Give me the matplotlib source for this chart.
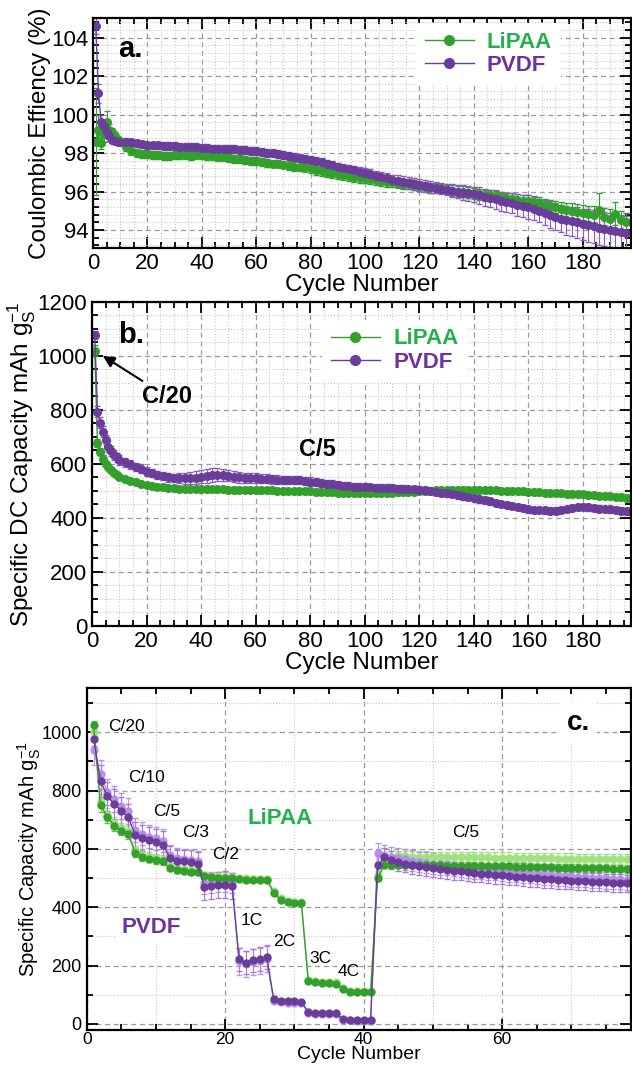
import numpy as np
import matplotlib
matplotlib.use("Agg")
import matplotlib.pyplot as plt
from matplotlib.ticker import MultipleLocator
from matplotlib.lines import Line2D

plt.rcParams['font.family'] = ['Liberation Sans', 'DejaVu Sans']
plt.rcParams['mathtext.fontset'] = 'custom'
plt.rcParams['mathtext.rm'] = 'Liberation Sans'

# ---------------- data ----------------
cyc_ab = list(range(1, 11)) + list(range(12, 197, 2))

ce_lipaa = [98.6, 99.2, 98.5, 99.0, 99.6, 99.2, 99.1, 98.9, 98.7, 98.6,
            98.3, 98.1, 98.0, 97.95, 97.95, 97.9, 97.9, 97.85, 97.85, 97.9,
            97.9, 97.9, 97.85, 97.9, 97.9, 97.85, 97.85, 97.8, 97.8, 97.75,
            97.7, 97.7, 97.65, 97.6, 97.6, 97.55, 97.5, 97.45, 97.45, 97.4,
            97.35, 97.3, 97.3, 97.25, 97.2, 97.1, 97.05, 97.0, 96.95, 96.9,
            96.85, 96.8, 96.75, 96.7, 96.7, 96.65, 96.6, 96.55, 96.5, 96.5,
            96.45, 96.4, 96.4, 96.35, 96.3, 96.25, 96.2, 96.2, 96.15, 96.1,
            96.05, 96.0, 96.0, 95.95, 95.9, 95.85, 95.8, 95.8, 95.75, 95.7,
            95.65, 95.6, 95.55, 95.5, 95.5, 95.45, 95.4, 95.3, 95.25, 95.2,
            95.1, 95.05, 95.0, 94.95, 94.9, 94.85, 94.8, 95.05, 94.7, 94.6,
            94.85, 94.5, 94.4]
ce_lipaa_err = [2.8, 0.8, 0.3, 0.4, 0.6, 0.3, 0.2, 0.2, 0.2, 0.2,
                0.2, 0.2, 0.2, 0.2, 0.2, 0.2, 0.2, 0.2, 0.2, 0.2,
                0.2, 0.2, 0.2, 0.2, 0.2, 0.2, 0.2, 0.2, 0.2, 0.2,
                0.2, 0.2, 0.2, 0.2, 0.2, 0.2, 0.2, 0.2, 0.2, 0.2,
                0.25, 0.25, 0.25, 0.25, 0.25, 0.25, 0.25, 0.25, 0.25, 0.25,
                0.25, 0.25, 0.25, 0.25, 0.25, 0.25, 0.25, 0.25, 0.25, 0.25,
                0.25, 0.25, 0.25, 0.25, 0.25, 0.25, 0.25, 0.25, 0.25, 0.25,
                0.3, 0.3, 0.3, 0.3, 0.3, 0.3, 0.3, 0.3, 0.3, 0.3,
                0.3, 0.3, 0.3, 0.3, 0.3, 0.3, 0.3, 0.3, 0.3, 0.3,
                0.35, 0.35, 0.4, 0.4, 0.4, 0.4, 0.45, 0.9, 0.45, 0.5,
                0.6, 0.5, 0.5]
ce_pvdf = [104.6, 101.1, 99.6, 99.4, 99.1, 98.9, 98.7, 98.65, 98.6, 98.6,
           98.6, 98.55, 98.5, 98.45, 98.4, 98.4, 98.4, 98.35, 98.35, 98.35,
           98.3, 98.3, 98.3, 98.3, 98.25, 98.25, 98.2, 98.2, 98.2, 98.2,
           98.2, 98.15, 98.15, 98.1, 98.1, 98.05, 98.0, 98.0, 97.95, 97.9,
           97.85, 97.8, 97.75, 97.7, 97.65, 97.6, 97.55, 97.45, 97.4, 97.3,
           97.2, 97.15, 97.1, 97.0, 96.95, 96.9, 96.8, 96.75, 96.7, 96.6,
           96.55, 96.5, 96.45, 96.4, 96.35, 96.3, 96.25, 96.2, 96.15, 96.1,
           96.05, 96.0, 95.95, 95.9, 95.85, 95.8, 95.7, 95.65, 95.6, 95.5,
           95.45, 95.4, 95.3, 95.25, 95.2, 95.1, 95.0, 94.9, 94.8, 94.7,
           94.6, 94.5, 94.45, 94.4, 94.3, 94.25, 94.2, 94.1, 94.05, 94.0,
           93.95, 93.9, 93.85]
ce_pvdf_err = [0.4, 0.5, 0.4, 0.3, 0.3, 0.25, 0.2, 0.2, 0.2, 0.2,
               0.2, 0.2, 0.2, 0.2, 0.2, 0.2, 0.2, 0.2, 0.2, 0.2,
               0.2, 0.2, 0.2, 0.2, 0.2, 0.2, 0.2, 0.2, 0.2, 0.2,
               0.2, 0.2, 0.2, 0.2, 0.2, 0.2, 0.2, 0.2, 0.2, 0.2,
               0.2, 0.2, 0.2, 0.2, 0.2, 0.2, 0.2, 0.2, 0.2, 0.2,
               0.25, 0.25, 0.25, 0.25, 0.25, 0.25, 0.25, 0.25, 0.25, 0.25,
               0.3, 0.3, 0.3, 0.3, 0.3, 0.3, 0.3, 0.3, 0.3, 0.3,
               0.35, 0.35, 0.4, 0.4, 0.4, 0.45, 0.45, 0.45, 0.5, 0.5,
               0.5, 0.5, 0.55, 0.55, 0.6, 0.6, 0.6, 0.65, 0.7, 0.7,
               0.7, 0.75, 0.75, 0.8, 0.8, 0.85, 0.85, 0.9, 0.9, 0.9,
               0.9, 0.9, 0.9]

cap_lipaa = [1020, 676, 646, 620, 600, 588, 578, 568, 560, 553,
             545, 538, 532, 527, 522, 518, 515, 513, 511, 510,
             509, 508, 507, 507, 506, 506, 506, 506, 506, 505,
             505, 505, 504, 504, 503, 503, 502, 502, 501, 500,
             500, 499, 499, 498, 498, 497, 497, 496, 495, 494,
             494, 493, 493, 492, 492, 492, 493, 493, 494, 494,
             495, 495, 496, 497, 498, 499, 500, 502, 503, 504,
             504, 504, 504, 504, 504, 503, 503, 502, 502, 501,
             500, 500, 499, 498, 497, 496, 495, 494, 493, 492,
             491, 490, 489, 488, 487, 485, 484, 483, 482, 480,
             478, 476, 474]
cap_lipaa_err = [20, 15, 12, 12, 10, 10, 10, 10, 10, 10,
                 10, 10, 9, 9, 9, 9, 9, 9, 9, 9,
                 9, 9, 9, 9, 9, 9, 9, 9, 9, 9,
                 9, 9, 9, 9, 9, 9, 9, 9, 9, 9,
                 9, 9, 9, 9, 9, 9, 9, 9, 9, 9,
                 9, 9, 9, 9, 9, 9, 9, 9, 9, 9,
                 9, 9, 9, 9, 9, 9, 9, 9, 9, 9,
                 9, 9, 9, 9, 9, 9, 9, 9, 9, 9,
                 10, 10, 10, 10, 10, 10, 10, 10, 10, 10,
                 10, 10, 10, 10, 10, 10, 10, 10, 10, 10,
                 10, 10, 10]
cap_pvdf = [1078, 794, 753, 720, 689, 664, 648, 633, 624, 615,
            606, 598, 590, 583, 572, 566, 560, 556, 550, 547,
            547, 547, 547, 549, 553, 556, 559, 560, 558, 556,
            553, 550, 547, 547, 547, 546, 545, 543, 542, 541,
            541, 541, 540, 538, 535, 533, 530, 527, 525, 522,
            520, 518, 516, 514, 514, 513, 512, 511, 510, 510,
            509, 508, 507, 506, 504, 502, 500, 497, 494, 491,
            488, 484, 480, 477, 473, 469, 465, 461, 456, 452,
            448, 444, 440, 436, 432, 430, 429, 428, 427, 427,
            430, 434, 437, 440, 440, 439, 437, 435, 433, 432,
            430, 427, 424]
cap_pvdf_err = [15, 20, 20, 20, 20, 20, 18, 18, 18, 18,
                16, 16, 15, 15, 15, 15, 15, 15, 15, 15,
                18, 20, 22, 24, 25, 25, 25, 24, 22, 20,
                20, 20, 18, 18, 18, 18, 16, 16, 16, 16,
                15, 15, 15, 15, 15, 15, 15, 15, 15, 15,
                14, 14, 14, 14, 14, 14, 14, 14, 14, 14,
                13, 13, 13, 13, 13, 13, 13, 13, 13, 13,
                12, 12, 12, 12, 12, 12, 12, 12, 12, 12,
                12, 12, 12, 12, 12, 12, 12, 12, 12, 12,
                12, 12, 12, 12, 12, 12, 12, 12, 12, 12,
                12, 12, 12]

cyc_c = list(range(1, 80))
rate_lipaa = [1024, 750, 708, 680, 663, 650,
              586, 572, 567, 561, 558,
              533, 527, 524, 522, 520,
              506, 503, 502, 500, 500,
              497, 495, 495, 495, 495,
              450, 425, 417, 415, 413,
              147, 142, 140, 140, 138,
              119, 110, 108, 108, 108,
              501, 545, 546, 546, 545, 545, 545, 544, 544,
              544, 543, 543, 543, 542, 542, 542, 541, 541, 540,
              540, 539, 539, 538, 538, 537, 537, 536, 536, 535,
              535, 534, 534, 533, 533, 532, 532, 531, 531]
rate_lipaa_err = [15, 25, 20, 18, 15, 15,
                  12, 12, 12, 12, 12,
                  10, 10, 10, 10, 10,
                  8, 8, 8, 8, 8,
                  6, 6, 6, 6, 6,
                  8, 6, 6, 6, 6,
                  6, 6, 6, 6, 6,
                  5, 5, 5, 5, 5,
                  12, 12, 12, 12, 12, 12, 12, 12, 12,
                  12, 12, 12, 12, 12, 12, 12, 12, 12, 12,
                  12, 12, 12, 12, 12, 12, 12, 12, 12, 12,
                  12, 12, 12, 12, 12, 12, 12, 12, 12]
rate_lipaa2 = [1000, 765, 718, 690, 672, 660,
               595, 580, 574, 568, 565,
               540, 534, 530, 528, 526,
               510, 507, 506, 505, 504,
               500, 499, 498, 498, 497,
               455, 430, 421, 419, 417,
               150, 146, 144, 143, 142,
               122, 114, 112, 111, 111,
               510, 568, 574, 575, 575, 574, 574, 574, 573,
               573, 573, 572, 572, 572, 571, 571, 571, 570, 570,
               570, 569, 569, 569, 568, 568, 568, 567, 567, 567,
               566, 566, 566, 565, 565, 565, 565, 564, 564]
rate_lipaa2_err = [20, 25, 22, 20, 18, 18,
                   15, 15, 15, 15, 15,
                   12, 12, 12, 12, 12,
                   10, 10, 10, 10, 10,
                   8, 8, 8, 8, 8,
                   8, 8, 8, 8, 8,
                   6, 6, 6, 6, 6,
                   6, 6, 6, 6, 6,
                   15, 18, 18, 18, 18, 18, 18, 18, 18,
                   18, 18, 18, 18, 18, 18, 18, 18, 18, 18,
                   18, 18, 18, 18, 18, 18, 18, 18, 18, 18,
                   18, 18, 18, 18, 18, 18, 18, 18, 18]
rate_pvdf = [977, 833, 780, 754, 731, 709,
             649, 637, 629, 624, 615,
             569, 558, 558, 556, 550,
             470, 474, 476, 478, 474,
             221, 210, 218, 223, 229,
             85, 79, 77, 77, 76,
             40, 36, 36, 36, 36,
             15, 14, 13, 13, 13,
             544, 572, 562, 555, 550, 545, 540, 537, 534,
             531, 528, 525, 523, 520, 518, 515, 513, 511, 509,
             507, 505, 503, 501, 499, 497, 496, 494, 493, 491,
             490, 489, 487, 486, 485, 484, 483, 482, 481]
rate_pvdf_err = [25, 55, 50, 50, 48, 45,
                 45, 45, 45, 45, 45,
                 40, 40, 40, 40, 40,
                 45, 45, 45, 45, 45,
                 40, 40, 40, 40, 40,
                 8, 6, 6, 6, 6,
                 4, 4, 4, 4, 4,
                 3, 3, 3, 3, 3,
                 35, 30, 30, 30, 30, 30, 30, 30, 30,
                 30, 30, 30, 30, 30, 30, 30, 30, 30, 30,
                 30, 30, 30, 30, 30, 30, 30, 30, 30, 30,
                 30, 30, 30, 30, 30, 30, 30, 30, 30]
rate_pvdf2 = [938, 856, 795, 770, 748, 731,
              665, 652, 642, 636, 628,
              578, 568, 566, 563, 558,
              482, 485, 486, 487, 484,
              214, 205, 212, 216, 222,
              80, 75, 73, 73, 72,
              38, 34, 34, 34, 34,
              13, 12, 11, 11, 11,
              587, 578, 573, 568, 564, 560, 556, 553, 550,
              547, 544, 541, 538, 536, 533, 531, 529, 527, 525,
              523, 521, 519, 517, 515, 513, 511, 509, 508, 506,
              505, 503, 502, 500, 499, 498, 496, 495, 493]
rate_pvdf2_err = [50, 50, 45, 45, 45, 45,
                  40, 40, 40, 40, 40,
                  35, 35, 35, 35, 35,
                  35, 35, 35, 35, 35,
                  45, 45, 45, 45, 45,
                  8, 6, 6, 6, 6,
                  4, 4, 4, 4, 4,
                  3, 3, 3, 3, 3,
                  35, 35, 35, 35, 35, 35, 35, 35, 35,
                  35, 35, 35, 35, 35, 35, 35, 35, 35, 35,
                  35, 35, 35, 35, 35, 35, 35, 35, 35, 35,
                  35, 35, 35, 35, 35, 35, 35, 35, 35]

rate_labels = ['C/20', 'C/10', 'C/5', 'C/3', 'C/2', '1C', '2C', '3C', '4C']

# ---------------- style ----------------
GREEN = '#33a02c'
PURPLE = '#6a3d9a'
GREEN_L = '#9ee27c'
PURPLE_L = '#b58ae8'
GREEN_TXT = '#22b14c'
PURPLE_TXT = '#7030a0'


def style_axes(ax, xmaj, xmin, ymaj, ymin, tsize):
    ax.xaxis.set_major_locator(MultipleLocator(xmaj))
    ax.xaxis.set_minor_locator(MultipleLocator(xmin))
    ax.yaxis.set_major_locator(MultipleLocator(ymaj))
    ax.yaxis.set_minor_locator(MultipleLocator(ymin))
    ax.tick_params(which='both', direction='in', top=True, right=True,
                   labelsize=tsize, width=1.3)
    ax.tick_params(which='major', length=8)
    ax.tick_params(which='minor', length=4)
    for s in ax.spines.values():
        s.set_linewidth(1.6)
    ax.grid(which='major', color='#9a9a9a', linestyle=(0, (4, 3)), lw=0.9)
    ax.grid(which='minor', color='#c8c8c8', linestyle=':', lw=0.8)
    ax.set_axisbelow(True)


def add_legend(ax, anchor):
    handles = [Line2D([], [], color=GREEN, marker='o', ms=7, lw=1),
               Line2D([], [], color=PURPLE, marker='o', ms=7, lw=1)]
    leg = ax.legend(handles, ['LiPAA', 'PVDF'], loc='center left',
                    bbox_to_anchor=anchor, borderaxespad=0, frameon=True,
                    fancybox=False, edgecolor='none', framealpha=1,
                    handlelength=2.2, handletextpad=0.6, labelspacing=0.1,
                    prop={'weight': 'bold', 'size': 16})
    for t, c in zip(leg.get_texts(), [GREEN_TXT, PURPLE_TXT]):
        t.set_color(c)


fig = plt.figure(figsize=(6.32, 10.7), dpi=100)

# ---------------- panel a ----------------
ax1 = fig.add_axes([0.1472, 0.7679, 0.8513, 0.2150])
ax1.errorbar(cyc_ab, ce_lipaa, yerr=ce_lipaa_err, fmt='-o', color=GREEN,
             ms=5.5, lw=1, elinewidth=0.8, capsize=2.5)
ax1.errorbar(cyc_ab, ce_pvdf, yerr=ce_pvdf_err, fmt='-o', color=PURPLE,
             ecolor='#8a5cc0', ms=5.5, lw=1, elinewidth=0.8, capsize=2.5)
ax1.set_xlim(0, 197.8)
ax1.set_ylim(93.05, 105)
style_axes(ax1, 20, 5, 2, 0.4, 16)
ax1.set_xlabel('Cycle Number', fontsize=17.5, labelpad=0)
ax1.set_ylabel('Coulombic Effiency (%)', fontsize=17.5)
ax1.yaxis.set_label_coords(-0.078, 0.5)
ax1.text(13.6, 103.4, 'a.', fontsize=21, fontweight='bold', ha='center',
         va='center')
add_legend(ax1, (0.6, 0.845))

# ---------------- panel b ----------------
ax2 = fig.add_axes([0.1456, 0.4150, 0.8528, 0.3028])
ax2.errorbar(cyc_ab, cap_lipaa, yerr=cap_lipaa_err, fmt='-o', color=GREEN,
             ms=5.5, lw=1, elinewidth=0.8, capsize=2.5)
ax2.errorbar(cyc_ab, cap_pvdf, yerr=cap_pvdf_err, fmt='-o', color=PURPLE,
             ecolor='#8a5cc0', ms=5.5, lw=1, elinewidth=0.8, capsize=2.5)
ax2.set_xlim(0, 197.6)
ax2.set_ylim(0, 1200)
style_axes(ax2, 20, 5, 200, 50, 16)
ax2.set_xlabel('Cycle Number', fontsize=17.5, labelpad=0)
ax2.set_ylabel(r'Specific DC Capacity mAh g$_\mathregular{S}^\mathregular{-1}$',
               fontsize=17.5)
ax2.yaxis.set_label_coords(-0.1, 0.5)
ax2.text(14.3, 1078, 'b.', fontsize=21, fontweight='bold', ha='center',
         va='center')
ax2.annotate('C/20', xy=(4, 1000), xytext=(27.6, 849), fontsize=17,
             fontweight='bold', ha='center', va='center',
             arrowprops=dict(arrowstyle='-|>', color='black', lw=1.5,
                             shrinkA=2, shrinkB=0))
ax2.text(82.5, 652, 'C/5', fontsize=17, fontweight='bold', ha='center',
         va='center')
add_legend(ax2, (0.427, 0.85))

# ---------------- panel c ----------------
ax3 = fig.add_axes([0.1372, 0.0374, 0.8612, 0.3196])
kw = dict(fmt='-o', ms=5, lw=1, elinewidth=0.8, capsize=2.5)
ax3.errorbar(cyc_c, rate_lipaa2, yerr=rate_lipaa2_err, color=GREEN_L,
             ecolor=GREEN_L, alpha=0.9, **kw)
ax3.errorbar(cyc_c, rate_pvdf2, yerr=rate_pvdf2_err, color=PURPLE_L,
             ecolor=PURPLE_L, alpha=0.9, **kw)
ax3.errorbar(cyc_c, rate_lipaa, yerr=rate_lipaa_err, color=GREEN,
             ecolor='#6cc04a', **kw)
ax3.errorbar(cyc_c, rate_pvdf, yerr=rate_pvdf_err, color=PURPLE,
             ecolor='#a67ad8', **kw)
ax3.set_xlim(0, 78.6)
ax3.set_ylim(-21, 1152)
style_axes(ax3, 20, 5, 200, 100, 13)
ax3.tick_params(axis='x', which='both', pad=1.5, labelsize=12.5)
ax3.xaxis.grid(False, which='minor')
for xv in (10, 30, 50, 70):
    ax3.axvline(xv, color='#c8c8c8', linestyle=':', lw=0.8, zorder=0)
ax3.set_xlabel('Cycle Number', fontsize=14, labelpad=-0.5)
ax3.set_ylabel(r'Specific Capacity mAh g$_\mathregular{S}^\mathregular{-1}$',
               fontsize=14.5)
ax3.yaxis.set_label_coords(-0.08, 0.5)

label_pos = [(5.7, 1020), (8.7, 845), (11.5, 728), (15.7, 655), (20.1, 582),
             (23.9, 354), (28.5, 281), (33.8, 223), (37.8, 178)]
for s, (x, y) in zip(rate_labels, label_pos):
    ax3.text(x, y, s, fontsize=12.5, ha='center', va='center')
ax3.text(54.7, 655, 'C/5', fontsize=12.5, ha='center', va='center',
         bbox=dict(facecolor='white', edgecolor='none', pad=2))
ax3.text(27.9, 703, 'LiPAA', fontsize=16, fontweight='bold', color=GREEN_TXT,
         ha='center', va='center')
ax3.text(9.3, 332, 'PVDF', fontsize=16, fontweight='bold', color=PURPLE_TXT,
         ha='center', va='center',
         bbox=dict(facecolor='white', edgecolor='none', pad=3))
ax3.text(71, 1032, 'c.', fontsize=20, fontweight='bold', ha='center',
         va='center', bbox=dict(facecolor='white', edgecolor='none', pad=5))

fig.savefig('out.png', dpi=100)
